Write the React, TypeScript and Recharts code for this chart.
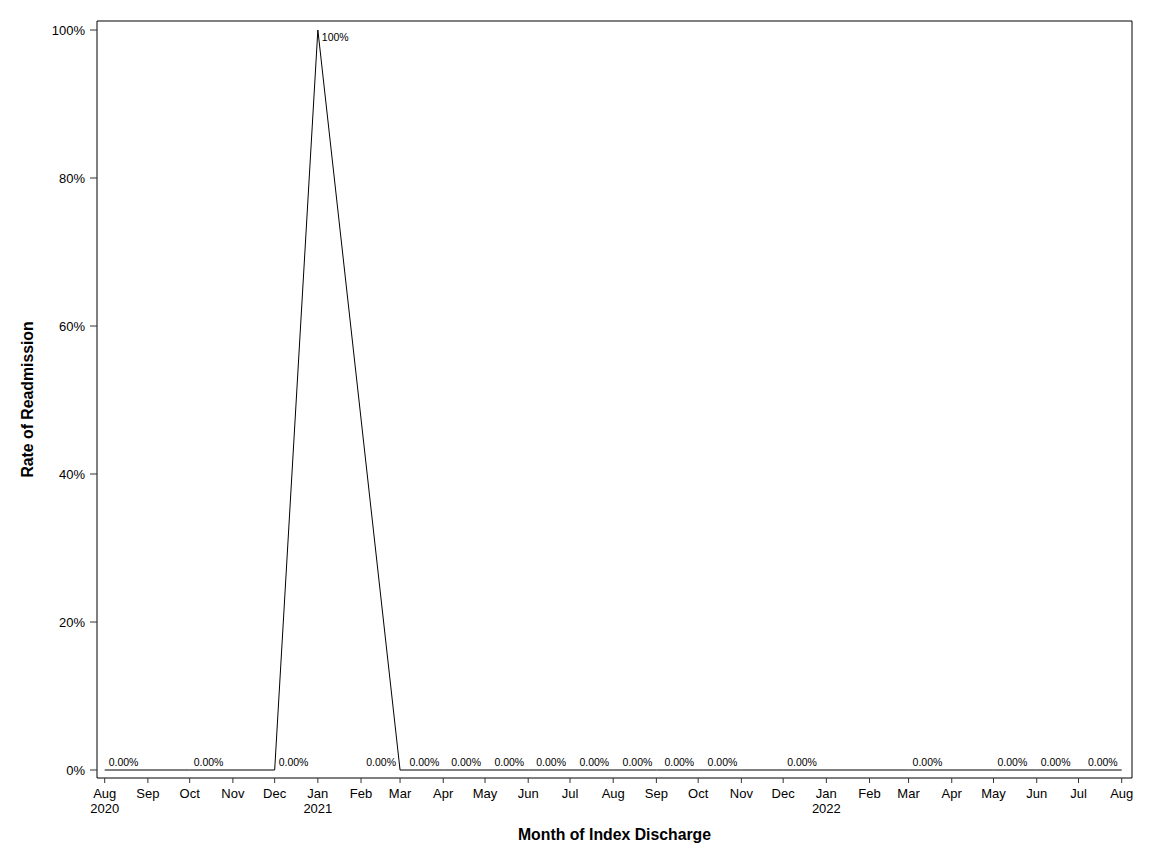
import React from "react";
import { LineChart, Line, XAxis, YAxis, LabelList } from "recharts";

// ---- data ----
const months = [
  "2020-08", "2020-10", "2020-12", "2021-01", "2021-03", "2021-04", "2021-05",
  "2021-06", "2021-07", "2021-08", "2021-09", "2021-10", "2021-11", "2021-12",
  "2022-03", "2022-05", "2022-06", "2022-08",
];
const rates = [0, 0, 0, 100, 0, 0, 0, 0, 0, 0, 0, 0, 0, 0, 0, 0, 0, 0];
const pointLabels = [
  "0.00%", "0.00%", "0.00%", "100%", "0.00%", "0.00%", "0.00%", "0.00%", "0.00%",
  "0.00%", "0.00%", "0.00%", "0.00%", "0.00%", "0.00%", "0.00%", "0.00%", "0.00%",
];

const tickMonths = [
  "2020-08", "2020-09", "2020-10", "2020-11", "2020-12", "2021-01", "2021-02",
  "2021-03", "2021-04", "2021-05", "2021-06", "2021-07", "2021-08", "2021-09",
  "2021-10", "2021-11", "2021-12", "2022-01", "2022-02", "2022-03", "2022-04",
  "2022-05", "2022-06", "2022-07", "2022-08",
];
const tickMonthNames = [
  "Aug", "Sep", "Oct", "Nov", "Dec", "Jan", "Feb", "Mar", "Apr", "May", "Jun",
  "Jul", "Aug", "Sep", "Oct", "Nov", "Dec", "Jan", "Feb", "Mar", "Apr", "May",
  "Jun", "Jul", "Aug",
];
const tickYears = [
  "2020", "", "", "", "", "2021", "", "", "", "", "", "", "", "", "", "", "",
  "2022", "", "", "", "", "", "", "",
];
const yTicks = [0, 20, 40, 60, 80, 100];

// label placement (styling): which side of the point the data label sits
const labelSide = [
  "right", "right", "right", "right",
  "left", "left", "left", "left", "left", "left", "left", "left", "left",
  "right", "right", "right", "right",
  "left",
];

const toTs = (m: string) => {
  const [y, mo] = m.split("-").map(Number);
  return Date.UTC(y, mo - 1, 1);
};

const data = months.map((m, i) => ({ t: toTs(m), rate: rates[i], label: pointLabels[i] }));
const xTicks = tickMonths.map(toTs);
const xDomain = [xTicks[0], xTicks[xTicks.length - 1]];

const FONT = '"Liberation Sans", Arial, Helvetica, sans-serif';

const XTick = (props: any) => {
  const { x, y, payload } = props;
  const idx = xTicks.indexOf(payload.value);
  return (
    <g>
      <text x={x} y={y + 14.5} textAnchor="middle" fontSize={13} fill="#000" fontFamily={FONT}>
        {tickMonthNames[idx]}
      </text>
      {tickYears[idx] ? (
        <text x={x} y={y + 30} textAnchor="middle" fontSize={13} fill="#000" fontFamily={FONT}>
          {tickYears[idx]}
        </text>
      ) : null}
    </g>
  );
};

const DataLabel = (props: any) => {
  const { x, y, index } = props;
  const side = labelSide[index];
  const isPeak = rates[index] >= 100;
  return (
    <text
      x={side === "right" ? x + 4 : x - 4}
      y={isPeak ? y + 11 : y - 4}
      textAnchor={side === "right" ? "start" : "end"}
      fontSize={10.5}
      fill="#000"
      fontFamily={FONT}
    >
      {pointLabels[index]}
    </text>
  );
};

export default function App() {
  return (
    <div style={{ width: 1136, height: 848, fontFamily: FONT }}>
      <LineChart
        width={1136}
        height={848}
        data={data}
        margin={{ top: 12, right: 11, bottom: 0, left: 0 }}
      >
        <XAxis
          dataKey="t"
          type="number"
          domain={xDomain}
          ticks={xTicks}
          interval={0}
          padding={{ left: 7.7, right: 10.3 }}
          height={78}
          tickSize={5}
          tickMargin={0}
          tick={<XTick />}
          tickLine={{ stroke: "#333" }}
          axisLine={{ stroke: "#000" }}
          label={{
            content: (p: any) => {
              const vb = p.viewBox || {};
              return (
                <text
                  x={606.5}
                  y={(vb.y ?? 770) + 62}
                  textAnchor="middle"
                  fontSize={15.8}
                  fontWeight="bold"
                  fill="#000"
                  fontFamily={FONT}
                >
                  Month of Index Discharge
                </text>
              );
            },
          }}
        />
        <XAxis
          xAxisId="top"
          dataKey="t"
          orientation="top"
          type="number"
          domain={xDomain}
          height={1}
          tick={false}
          tickLine={false}
          axisLine={{ stroke: "#000" }}
        />
        <YAxis
          type="number"
          domain={[0, 100]}
          ticks={yTicks}
          interval={0}
          padding={{ top: 9, bottom: 8 }}
          width={89}
          tickSize={7}
          tickMargin={5}
          tickFormatter={(v: number) => `${v}%`}
          tick={{ fontSize: 13, fill: "#000", fontFamily: FONT }}
          tickLine={{ stroke: "#333" }}
          axisLine={{ stroke: "#000" }}
          label={{
            content: () => {
              const cx = 25.3;
              const cy = 391.5;
              return (
                <text
                  x={cx}
                  y={cy}
                  transform={`rotate(-90, ${cx}, ${cy})`}
                  textAnchor="middle"
                  fontSize={15.8}
                  fontWeight="bold"
                  fill="#000"
                  fontFamily={FONT}
                >
                  Rate of Readmission
                </text>
              );
            },
          }}
        />
        <YAxis
          yAxisId="right"
          orientation="right"
          type="number"
          domain={[0, 100]}
          width={1}
          tick={false}
          tickLine={false}
          axisLine={{ stroke: "#000" }}
        />
        <Line
          type="linear"
          dataKey="rate"
          stroke="#000"
          strokeWidth={1}
          dot={false}
          activeDot={false}
          isAnimationActive={false}
        >
          <LabelList dataKey="label" content={<DataLabel />} />
        </Line>
        <Line
          xAxisId="top"
          yAxisId="right"
          type="linear"
          dataKey="rate"
          stroke="none"
          dot={false}
          activeDot={false}
          legendType="none"
          isAnimationActive={false}
        />
      </LineChart>
    </div>
  );
}
